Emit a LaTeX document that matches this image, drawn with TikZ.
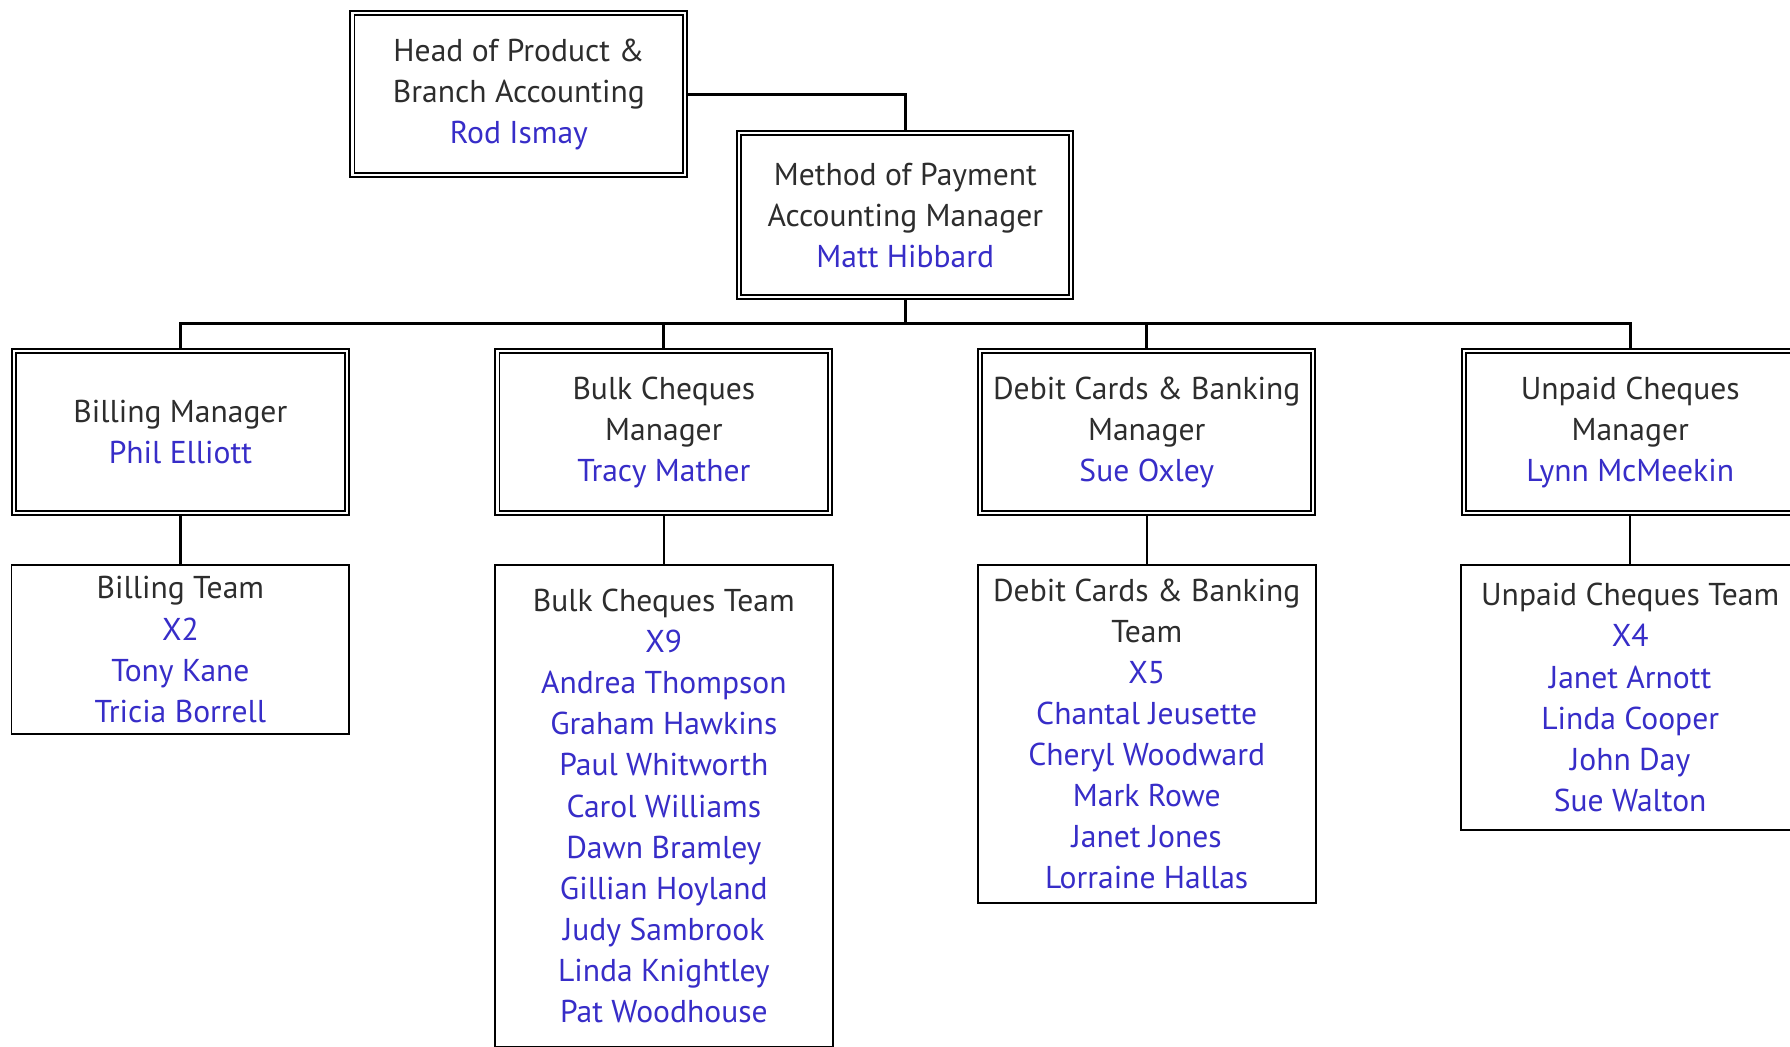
\documentclass[tikz,border=0pt]{standalone}
\usepackage{fontspec}
\setmainfont{PT Sans}
\usetikzlibrary{backgrounds}
\definecolor{nmcol}{RGB}{55,45,200}
\definecolor{txcol}{RGB}{45,45,45}
\newcommand\pname[1]{\textcolor{nmcol}{#1}}
\begin{document}
\begin{tikzpicture}[x=0.6pt,y=-0.6pt,
  box/.style={draw=black, fill=white, align=center, inner sep=0pt, outer sep=0pt,
    font=\fontsize{16.6}{21.6}\selectfont, text=txcol},
  mgrbox/.style={box, double=white, double distance=1.2pt, line width=0.95pt,
    minimum width=175pt, minimum height=85pt},
  teambox/.style={box, line width=0.9pt, minimum width=177.6pt},
  conn/.style={line width=1.5pt, black},
  tconn/.style={line width=1.2pt, black}]
\useasboundingbox (0,0) rectangle (1568,917);
\clip (0,0) rectangle (1568,917);

\node[mgrbox] (head) at (454.5,82.5) {Head of Product \&\\Branch Accounting\\\pname{Rod Ismay}};
\node[mgrbox, minimum width=174.5pt, minimum height=86.3pt] (method) at (793,188.5) {Method of Payment\\Accounting Manager\\\pname{Matt Hibbard}};

\node[mgrbox] (billing) at (158,378.5) {Billing Manager\\\pname{Phil Elliott}};
\node[mgrbox] (bulk) at (581.5,378.5) {Bulk Cheques\\Manager\\\pname{Tracy Mather}};
\node[mgrbox] (debit) at (1004.5,378.5) {Debit Cards \& Banking\\Manager\\\pname{Sue Oxley}};
\node[mgrbox] (unpaid) at (1428,378.5) {Unpaid Cheques\\Manager\\\pname{Lynn McMeekin}};

\node[teambox, minimum height=88.8pt] (billingteam) at (158,569) {Billing Team\\\pname{X2}\\\pname{Tony Kane}\\\pname{Tricia Borrell}};
\node[teambox, minimum height=253.2pt] (bulkteam) at (581.5,706) {Bulk Cheques Team\\\pname{X9}\\\pname{Andrea Thompson}\\\pname{Graham Hawkins}\\\pname{Paul Whitworth}\\\pname{Carol Williams}\\\pname{Dawn Bramley}\\\pname{Gillian Hoyland}\\\pname{Judy Sambrook}\\\pname{Linda Knightley}\\\pname{Pat Woodhouse}};
\node[teambox, minimum height=177.6pt] (debitteam) at (1004.5,643) {Debit Cards \& Banking\\Team\\\pname{X5}\\\pname{Chantal Jeusette}\\\pname{Cheryl Woodward}\\\pname{Mark Rowe}\\\pname{Janet Jones}\\\pname{Lorraine Hallas}};
\node[teambox, minimum height=139.2pt] (unpaidteam) at (1428,611) {Unpaid Cheques Team\\\pname{X4}\\\pname{Janet Arnott}\\\pname{Linda Cooper}\\\pname{John Day}\\\pname{Sue Walton}};

\coordinate (bar) at (793,283);
\begin{scope}[on background layer]
\draw[conn] (head.east) -| (method.north);
\draw[conn] (method.south) -- (bar);
\draw[conn] (bar) -| (billing.north);
\draw[conn] (bar) -| (bulk.north);
\draw[conn] (bar) -| (debit.north);
\draw[conn] (bar) -| (unpaid.north);
\draw[tconn] (billing.south) -- (billingteam.north);
\draw[tconn] (bulk.south) -- (bulkteam.north);
\draw[tconn] (debit.south) -- (debitteam.north);
\draw[tconn] (unpaid.south) -- (unpaidteam.north);
\end{scope}
\end{tikzpicture}
\end{document}
